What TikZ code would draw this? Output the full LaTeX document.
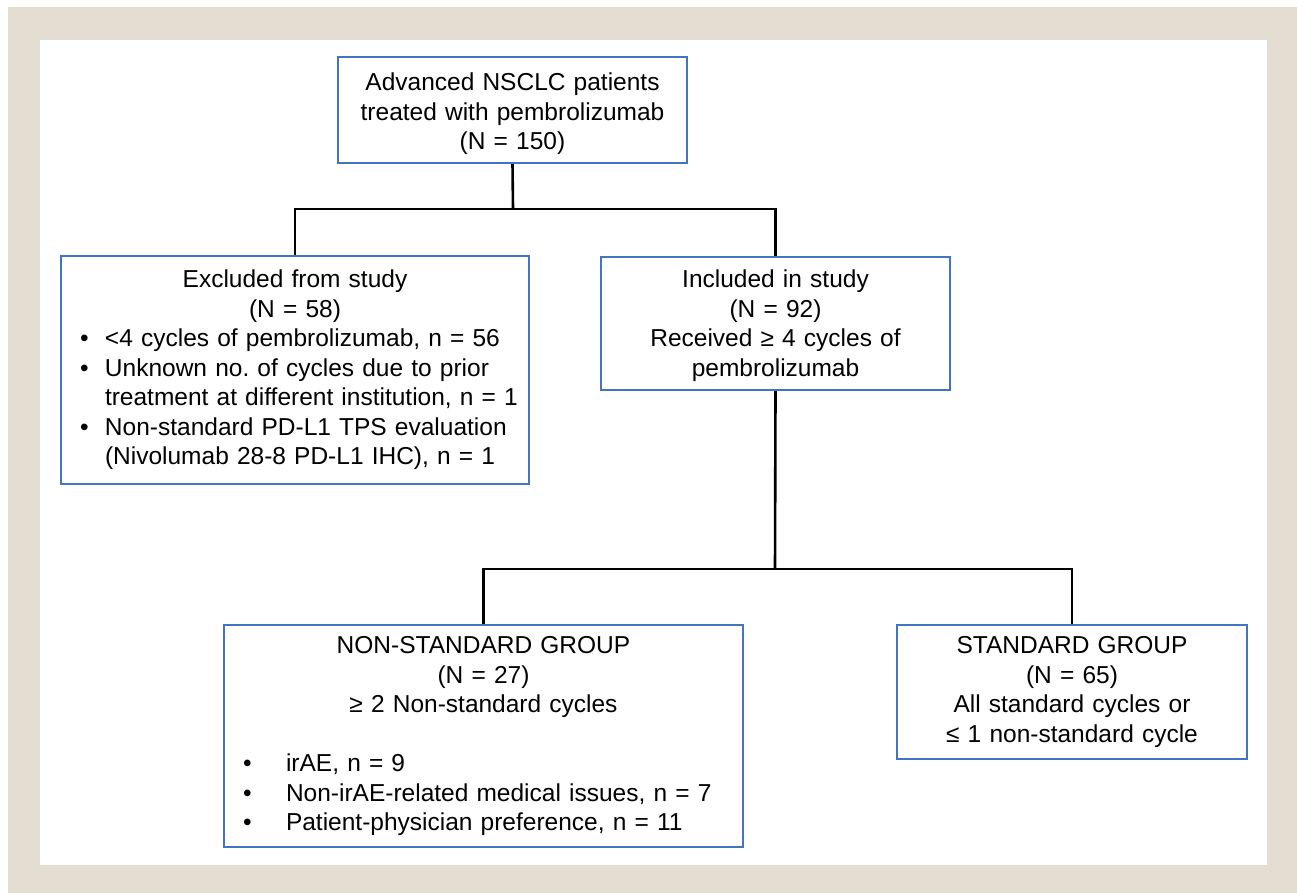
\documentclass[tikz,border=0pt]{standalone}
\usepackage{fontspec}
\setmainfont{Liberation Sans}

\definecolor{boxblue}{HTML}{4472C4}
\definecolor{framebeige}{HTML}{E4DDD1}

% bullet line with hanging indent: #1 = text indent, #2 = text
\newcommand{\bitem}[2]{\par\hangindent=#1\hangafter=1\noindent\makebox[#1][l]{\hspace{19pt}\textbullet}#2}

\begin{document}
\begin{tikzpicture}[x=1pt, y=-1pt,
  box/.style={draw=boxblue, line width=2.4pt, fill=white, inner xsep=0pt, inner ysep=0pt,
    font=\fontsize{24.5}{29.5}\selectfont},
  link/.style={draw=black, line width=2.6pt}]

  % frame
  \useasboundingbox (0,0) rectangle (1297,893);
  \fill[white] (0,0) rectangle (1297,893);
  \fill[framebeige] (8,7) rectangle (1297,893);
  \fill[white] (40,40) rectangle (1267,865);

  % all patients
  \node[box, align=center, text width=349pt, minimum height=106pt] (allpts) at (512.5,110)
  {\rule{0pt}{26pt}Advanced NSCLC patients\\treated with pembrolizumab\\(N = 150)};

  % excluded / included
  \node[box, align=left, text width=468pt, minimum height=228pt] (excl) at (295,370)
  {{\centering Excluded from study\\(N = 58)\par}
   \bitem{44pt}{<4 cycles of pembrolizumab, n = 56}
   \bitem{44pt}{Unknown no.\ of cycles due to prior\newline treatment at different institution, n = 1}
   \bitem{44pt}{Non-standard PD-L1 TPS evaluation\newline (Nivolumab 28-8 PD-L1 IHC), n = 1}\par};
  \node[box, align=center, text width=349pt, minimum height=133pt] (incl) at (775.5,323.5)
  {\rule{0pt}{22pt}Included in study\\(N = 92)\\Received ≥ 4 cycles of\\pembrolizumab};

  % groups
  \node[box, align=left, text width=519pt, minimum height=222pt] (nonstd) at (483.5,736)
  {{\centering NON-STANDARD GROUP\\(N = 27)\\≥ 2 Non-standard cycles\\\strut\par}
   \bitem{62pt}{irAE, n = 9}
   \bitem{62pt}{Non-irAE-related medical issues, n = 7}
   \bitem{62pt}{Patient-physician preference, n = 11}\par};
  \node[box, align=center, text width=350pt, minimum height=134pt] (std) at (1072,692)
  {STANDARD GROUP\\(N = 65)\\All standard cycles or\\≤ 1 non-standard cycle};

  % connectors
  \coordinate (fork1) at (513,209);
  \coordinate (fork2) at (775,569);
  \draw[link] (allpts.south) to (fork1);
  \draw[link] (excl.north) to (excl.north |- fork1) to (incl.north |- fork1) to (incl.north);
  \draw[link] (incl.south) to (fork2);
  \draw[link] (nonstd.north) to (nonstd.north |- fork2) to (std.north |- fork2) to (std.north);
\end{tikzpicture}
\end{document}
